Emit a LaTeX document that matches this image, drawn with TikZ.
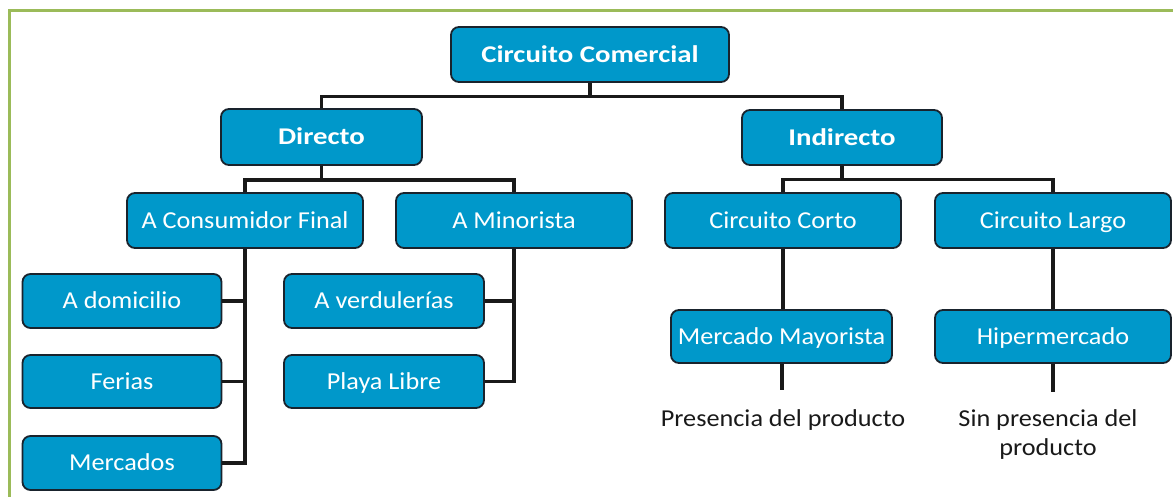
\documentclass[tikz,border=0pt]{standalone}
\usepackage{fontspec}
\setmainfont{Carlito}
\newfontfamily\regfont[FakeStretch=1.08]{Carlito}
\newfontfamily\bldfont[FakeStretch=1.2]{Carlito Bold}
\definecolor{boxblue}{RGB}{0,152,202}
\definecolor{boxedge}{RGB}{25,35,45}
\definecolor{framegreen}{RGB}{155,187,89}
\begin{document}
\begin{tikzpicture}[x=1pt,y=-1pt,
  box/.style={draw=boxedge, line width=1.8pt, fill=boxblue, rounded corners=8pt,
    text=white, inner sep=0pt, anchor=center, text height=15.5pt, text depth=0pt,
    font=\regfont\fontsize{24.3}{28}\selectfont},
  boldbox/.style={box, font=\bldfont\fontsize{24}{28}\selectfont},
  conn/.style={draw=black!90, line width=3.6pt},
  note/.style={align=center, font=\regfont\fontsize{24.3}{29}\selectfont, text=black!90}]
\useasboundingbox (0,0) rectangle (1173,497);
\draw[framegreen, line width=3pt] (9,497) -- (9,11) -- (1173,11);
% nodes
\node[boldbox, minimum width=278pt, minimum height=55pt] (cc) at (590,54.5) {Circuito Comercial};
\node[boldbox, minimum width=201pt, minimum height=56pt] (dir) at (321.5,137) {Directo};
\node[boldbox, minimum width=200pt, minimum height=55pt] (ind) at (842,137.5) {Indirecto};
\node[box, minimum width=236pt, minimum height=55pt] (acf) at (245,220.5) {A Consumidor Final};
\node[box, minimum width=236pt, minimum height=55pt] (amin) at (514,220.5) {A Minorista};
\node[box, minimum width=236pt, minimum height=55pt] (ccorto) at (783,220.5) {Circuito Corto};
\node[box, minimum width=236pt, minimum height=55pt] (clargo) at (1053,220.5) {Circuito Largo};
\node[box, minimum width=199pt, minimum height=54pt] (adom) at (122,301) {A domicilio};
\node[box, minimum width=199pt, minimum height=53pt] (fer) at (122,381.5) {Ferias};
\node[box, minimum width=199pt, minimum height=54pt] (mer) at (122,463) {Mercados};
\node[box, minimum width=200pt, minimum height=54pt] (aver) at (384,301) {A verdulerías};
\node[box, minimum width=200pt, minimum height=53pt] (playa) at (384,381.5) {Playa Libre};
\node[box, minimum width=221pt, minimum height=53pt] (mm) at (781.5,336.5) {Mercado Mayorista};
\node[box, minimum width=236pt, minimum height=53pt] (hip) at (1053,336.5) {Hipermercado};
\node[note] (pres) at (783,420) {Presencia del producto};
\node[note] (sin) at (1048,434.5) {Sin presencia del\\producto};
\coordinate (presend) at (782,390);
\coordinate (sinend) at (1053,392);
% connectors
\draw[conn] (cc.south) -- ++(0,13.5) coordinate (j1) -| (dir.north);
\draw[conn] (j1) -| (ind.north);
\draw[conn] (dir.south) -- ++(0,14) coordinate (j2) -| (acf.north);
\draw[conn] (j2) -| (amin.north);
\draw[conn] (ind.south) -- ++(0,13.5) coordinate (j3) -| (ccorto.north);
\draw[conn] (j3) -| (clargo.north);
\draw[conn] (acf.south) |- (mer.east);
\draw[conn] (adom.east) -- (adom.east -| acf.south);
\draw[conn] (fer.east) -- (fer.east -| acf.south);
\draw[conn] (amin.south) |- (playa.east);
\draw[conn] (aver.east) -- (aver.east -| amin.south);
\draw[conn] (ccorto.south) -- (ccorto.south |- mm.north);
\draw[conn] (clargo.south) -- (hip.north);
\draw[conn] (mm.south -| presend) -- (presend);
\draw[conn] (hip.south) -- (sinend);
\end{tikzpicture}
\end{document}
